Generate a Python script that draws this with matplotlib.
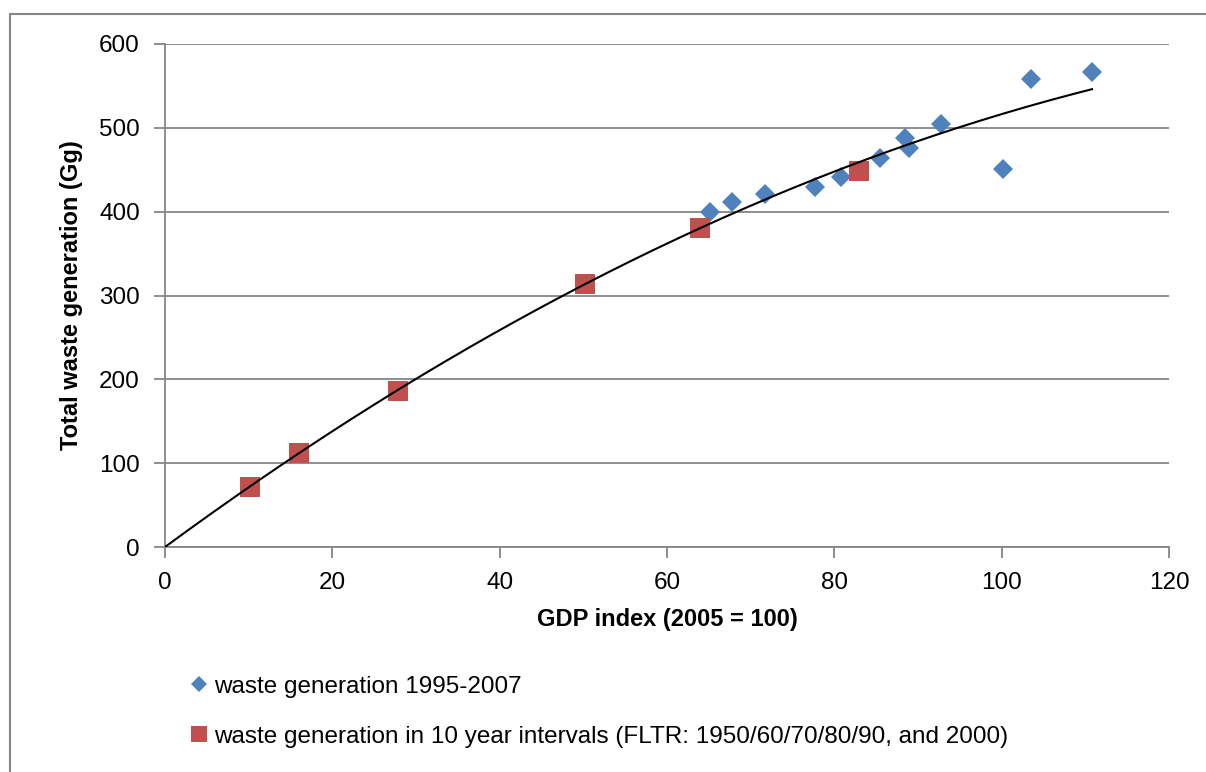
import numpy as np
import matplotlib.pyplot as plt
from matplotlib.lines import Line2D
from matplotlib.patches import Rectangle

plt.rcParams['font.family'] = ['Liberation Sans', 'DejaVu Sans']

# waste generation 1995-2007 (GDP index, Gg)
gdp_recent = [65.1, 67.8, 71.7, 77.7, 80.8, 85.4, 88.5, 88.9, 92.7, 100.1, 103.5, 110.8]
waste_recent = [400, 411, 421, 430, 441, 464, 488, 476, 504, 451, 558, 567]

# waste generation in 10 year intervals (1950..2000)
gdp_decades = [10.2, 16.0, 27.8, 50.2, 63.9, 83.0]
waste_decades = [72, 112, 186, 314, 380, 449]

label_recent = 'waste generation 1995-2007'
label_decades = 'waste generation in 10 year intervals (FLTR: 1950/60/70/80/90, and 2000)'

blue = '#4F81BD'
red = '#C0504D'
grey = '#868686'

fig = plt.figure(figsize=(12.06, 7.72), dpi=100)
ax = fig.add_axes([165 / 1206, 1 - 547 / 772, 1004 / 1206, 503 / 772])

# polynomial trendline (order 2, intercept 0) fitted on all points
x_all = np.array(gdp_decades + gdp_recent)
y_all = np.array(waste_decades + waste_recent)
A = np.column_stack([x_all, x_all ** 2])
coef = np.linalg.lstsq(A, y_all, rcond=None)[0]
xs = np.linspace(0, max(gdp_recent), 200)
ax.plot(xs, coef[0] * xs + coef[1] * xs ** 2, color='black', lw=1.5, zorder=4)

ax.plot(gdp_recent, waste_recent, 'D', color=blue, ms=10, mew=0, zorder=3)
ax.plot(gdp_decades, waste_decades, 's', color=red, ms=14, mew=0, zorder=3)

ax.set_xlim(0, 120)
ax.set_ylim(0, 600)
ax.set_xticks(range(0, 121, 20))
ax.set_yticks(range(0, 601, 100))
ax.yaxis.grid(True, color=grey, lw=1.3)
ax.set_axisbelow(True)
for s in ['top', 'right']:
    ax.spines[s].set_visible(False)
for s in ['left', 'bottom']:
    ax.spines[s].set_color(grey)
    ax.spines[s].set_linewidth(1.3)
ax.tick_params(colors=grey, labelcolor='black', labelsize=17.5, length=8, width=1.3, direction='out')
ax.tick_params(axis='y', pad=10)
ax.tick_params(axis='x', pad=10)

ax.set_xlabel('GDP index (2005 = 100)', fontsize=17, fontweight='bold', labelpad=10)
ax.set_ylabel('Total waste generation (Gg)', fontsize=17, fontweight='bold', labelpad=12)

handles = [
    Line2D([], [], ls='none', marker='D', color=blue, ms=8, mew=0),
    Line2D([], [], ls='none', marker='s', color=red, ms=12, mew=0),
]
fig.legend(handles, [label_recent, label_decades], loc='upper left',
           bbox_to_anchor=(182 / 1206, 1 - 666 / 772), frameon=False,
           fontsize=17.5, handlelength=0.6, handletextpad=0.3, labelspacing=1.15,
           borderaxespad=0)

# chart area border (extends beyond the image on right/bottom)
fig.add_artist(Rectangle((10 / 1206, -0.1), 2, 1 - 14 / 772 + 0.1,
                         transform=fig.transFigure, fill=False,
                         edgecolor=grey, lw=1.5))

fig.savefig('out.png', dpi=100)
